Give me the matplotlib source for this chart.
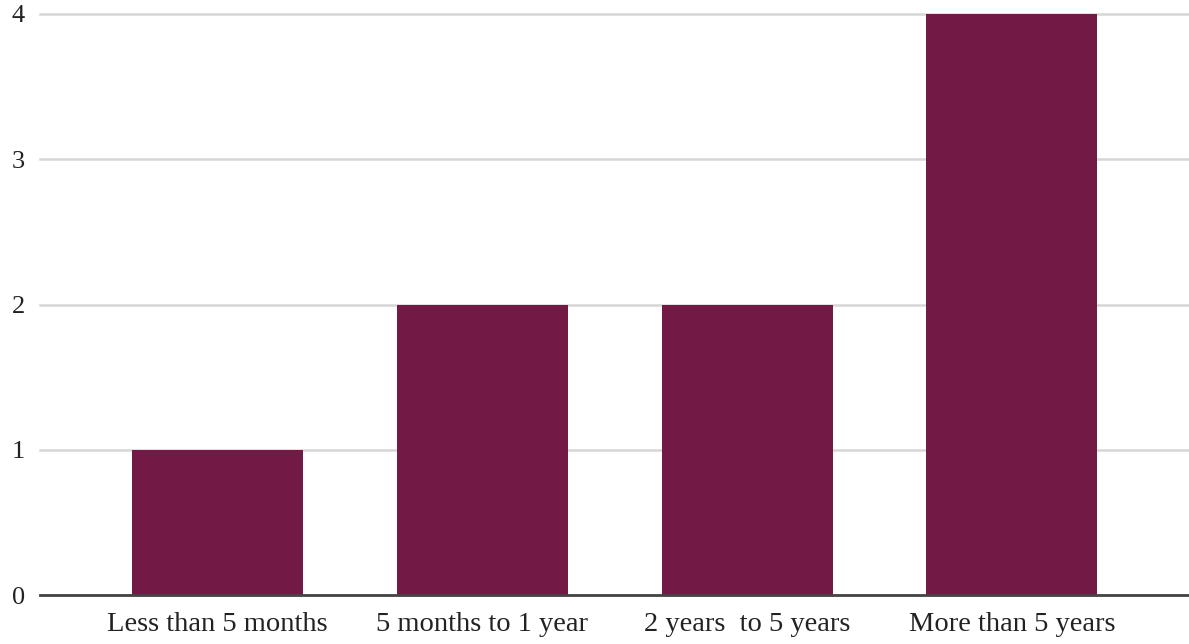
import matplotlib
matplotlib.use("Agg")
import matplotlib.pyplot as plt

categories = ["Less than 5 months", "5 months to 1 year", "2 years  to 5 years", "More than 5 years"]
values = [1, 2, 2, 4]
yticks = [0, 1, 2, 3, 4]
ytick_labels = ["0", "1", "2", "3", "4"]

bar_color = "#721a45"

fig = plt.figure(figsize=(11.89, 6.44), dpi=100)
ax = fig.add_axes([40 / 1189, 49 / 644, 1148 / 1189, 581 / 644])

x = list(range(len(categories)))
ax.bar(x, values, width=0.646, color=bar_color, zorder=3)

ax.set_xlim(-0.67, len(categories) - 1 + 0.665)
ax.set_ylim(0, 4)
ax.set_yticks(yticks)
ax.set_yticklabels(ytick_labels, fontsize=19, family="Liberation Serif", color="#222222")
ax.set_xticks(x)
ax.set_xticklabels(categories, fontsize=20.5, family="Liberation Serif", color="#222222")

ax.tick_params(axis="y", length=0, pad=11)
ax.tick_params(axis="x", length=0, pad=12)

ax.grid(axis="y", color="#d6d6d6", linewidth=1.8, zorder=0)
ax.set_axisbelow(True)
for g in ax.get_ygridlines():
    g.set_clip_on(False)

for s in ["top", "right", "left"]:
    ax.spines[s].set_visible(False)
ax.spines["bottom"].set_color("#444444")
ax.spines["bottom"].set_linewidth(2)
ax.spines["bottom"].set_zorder(4)

fig.savefig("out.png", dpi=100, facecolor="white")
